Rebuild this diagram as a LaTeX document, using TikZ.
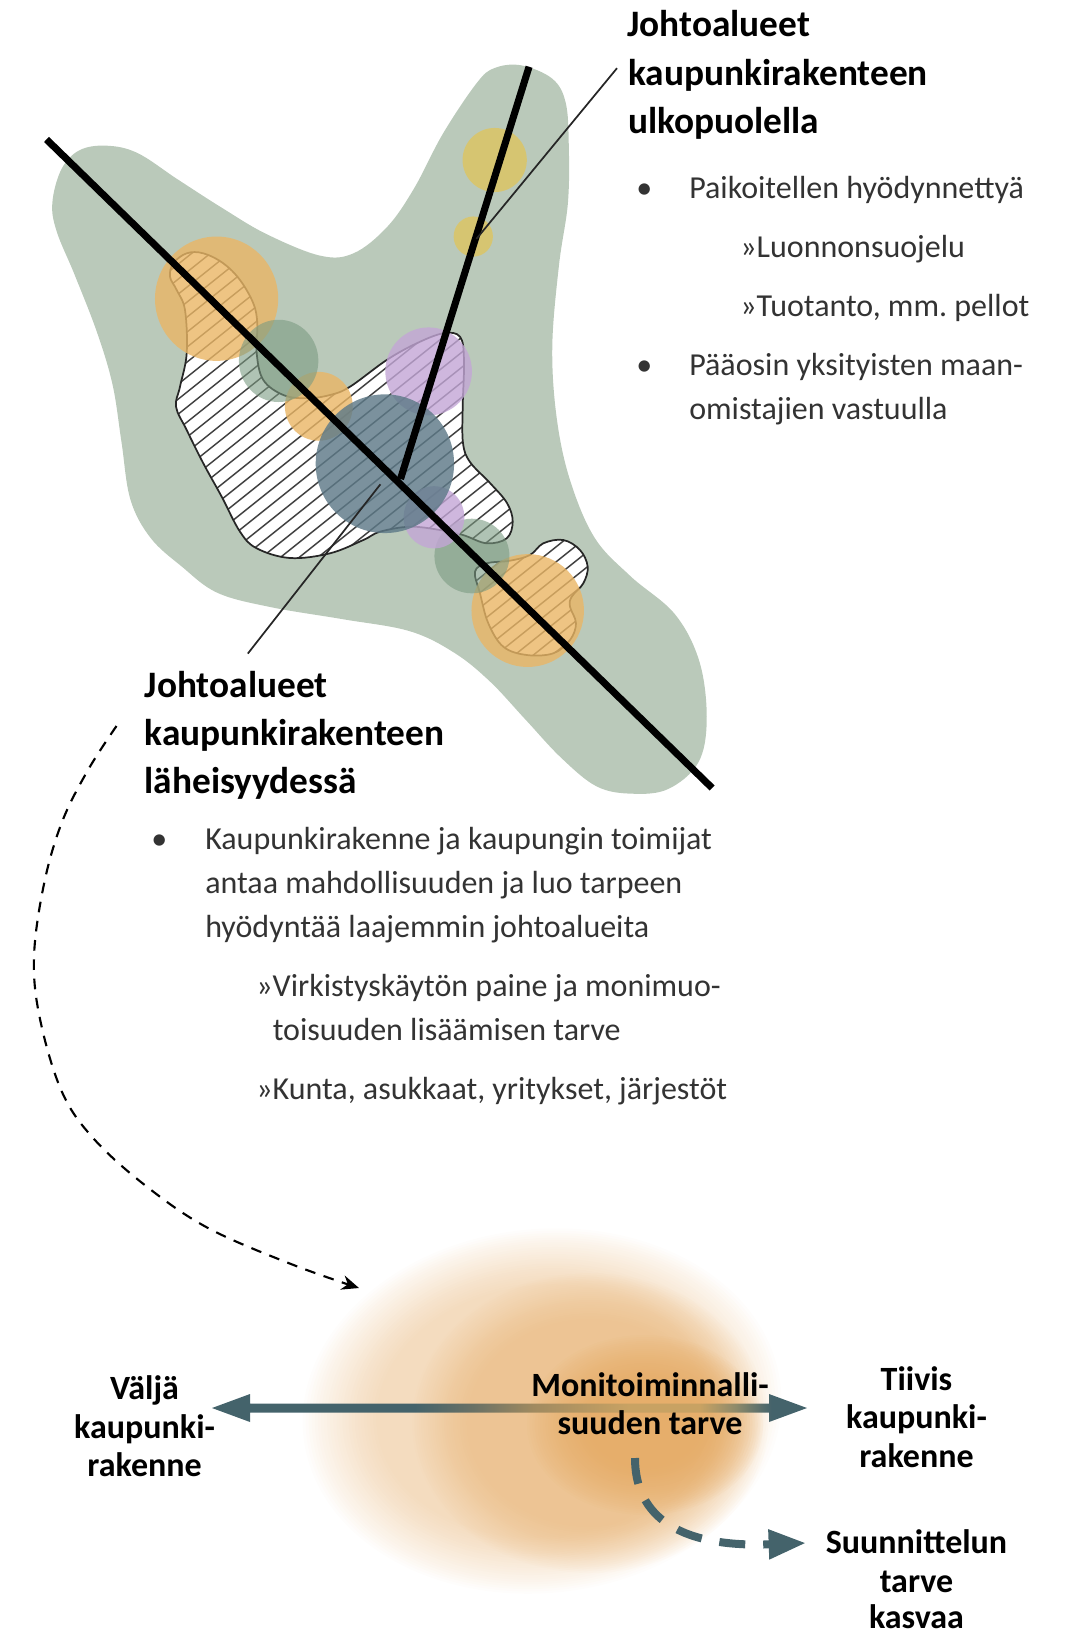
\documentclass[tikz,border=0pt]{standalone}
\usepackage{fontspec}
\setmainfont{Carlito}
\usetikzlibrary{arrows.meta,calc}
\definecolor{blobgreen}{HTML}{BAC9BA}
\definecolor{oran}{HTML}{EAB665}
\definecolor{grn}{HTML}{7B9B82}
\definecolor{purp}{HTML}{C3A6D6}
\definecolor{navy}{HTML}{5E7A88}
\definecolor{yel}{HTML}{DCC565}
\definecolor{teal1}{HTML}{44636B}
\definecolor{txt}{HTML}{333333}
\definecolor{glowc}{HTML}{E3A55B}
\definecolor{shafta}{HTML}{6A7165}
\definecolor{shaftb}{HTML}{A08A60}
\definecolor{shaftc}{HTML}{C8A263}
\definecolor{shaftd}{HTML}{8E8A6A}
\pgfdeclarehorizontalshading{shaftshade}{100bp}{color(0bp)=(teal1);color(42bp)=(teal1);color(47bp)=(shafta);color(52bp)=(shaftb);color(60bp)=(shaftc);color(66bp)=(shaftc);color(69bp)=(shaftd);color(72bp)=(teal1);color(100bp)=(teal1)}
\tikzset{
  headtxt/.style={anchor=base west,font=\fontsize{28}{32}\selectfont\bfseries\frenchspacing,text=black,inner sep=0pt},
  bodytxt/.style={anchor=base west,font=\fontsize{24}{28}\selectfont\frenchspacing,text=txt,inner sep=0pt},
  lowtxt/.style={anchor=base,font=\fontsize{25.5}{30}\selectfont\bfseries\frenchspacing,text=black,inner sep=0pt},
  thinline/.style={line width=1.3pt,black!85},
  mainline/.style={line width=5.3pt,black},
  zoomed/.style={shift={(30,50)},x=0.75pt/2.24,y=-0.75pt/2.0907},
  spot/.style={fill opacity=.8},
  bloboutline/.style={line width=1.3pt,black!85},
  hatchline/.style={line width=1.1pt,black!75}
}
\newcommand\blobApath{plot[smooth cycle,tension=.6] coordinates {(170,276.7)(173.3,263.3)(186.7,253.3)(203.3,253.3)(223.3,263.3)(240,280)(253.3,303.3)(257.3,323.3)(256.7,353.3)(263.3,380)(283.3,395)(306.7,398.3)(330,395)(350,386.7)(386.7,360)(416.7,343.3)(443.3,333.3)(460,336.7)(464,360)(462.7,406.7)(463,443)(470,462)(490,483)(507,503)(512.7,521.7)(506.7,538.3)(486.7,543.3)(463,535)(440,530)(410,526.7)(380,531.7)(363.3,540)(330,553.3)(290,558)(256.7,548.3)(240,531.7)(221.7,496.7)(203.3,463.3)(186.7,430)(176,406.7)(180,386.7)(186.7,353.3)(185,310)(176.7,290)}}
\newcommand\blobBpath{plot[smooth cycle,tension=.6] coordinates {(475,571.7)(486.7,563.3)(510,560.7)(530,555)(543.3,543.3)(563.3,540)(580,550)(587.7,566.7)(583.3,583.3)(571.7,596.7)(570,606.7)(576,623.3)(570,640)(553.3,653.3)(526.7,655)(503.3,646.7)(488.3,623.3)(480,593.3)}}
\newcommand\glowlayer[7]{% cx cy rx ry inner-scale opacity steps
  \foreach \i in {1,...,#7}{
    \pgfmathsetmacro\sc{1-(\i-1)/#7*(1-#5)}
    \fill[glowc,fill opacity=#6] (#1,#2) ellipse [x radius=#3*\sc,y radius=#4*\sc];
  }
}
\begin{document}
\begin{tikzpicture}[x=0.75pt,y=-0.75pt]
\useasboundingbox (0,0) rectangle (1083,1632);
% map
\begin{scope}[zoomed]
\fill[blobgreen] plot[smooth cycle,tension=.6] coordinates {(1000,70)(1040,38)(1100,32)(1170,60)(1200,110)(1207,200)(1205,320)(1185,450)(1170,620)(1180,770)(1210,900)(1265,1020)(1345,1100)(1445,1180)(1500,1280)(1516,1400)(1497,1490)(1430,1545)(1350,1555)(1270,1540)(1190,1480)(1110,1400)(1030,1320)(950,1260)(850,1215)(700,1190)(540,1165)(420,1135)(340,1080)(270,1020)(225,940)(205,820)(185,700)(150,590)(100,470)(60,380)(50,320)(70,250)(110,210)(170,200)(240,215)(330,270)(430,330)(530,385)(650,430)(725,425)(800,370)(860,290)(925,175)};
\end{scope}
\foreach \blob in {\blobApath,\blobBpath}{
  \fill[white] \blob;
  \begin{scope}
    \clip \blob;
    \foreach \c in {281.7,296.7,...,1150}
      \draw[hatchline] (100,\c) -- (650,\c-440);
  \end{scope}
  \draw[bloboutline] \blob;
}
\begin{scope}[zoomed]
\fill[oran,spot] (418,520) circle [x radius=138,y radius=130];
\fill[oran,spot] (647,745) circle [x radius=76,y radius=72];
\fill[oran,spot] (1115,1172) circle [x radius=126,y radius=118];
\fill[grn,fill opacity=.6] (557,650) circle [x radius=89,y radius=86];
\fill[grn,fill opacity=.6] (990,1058) circle [x radius=84,y radius=78];
\fill[purp,spot] (893,672) circle [x radius=97,y radius=92];
\fill[purp,spot] (905,977) circle [x radius=68,y radius=65];
\fill[navy,fill opacity=.82] (795,865) circle [x radius=155,y radius=145];
\fill[yel,fill opacity=.85] (1041,230) circle [x radius=72,y radius=67];
\fill[yel,fill opacity=.85] (993,390) circle [x radius=44,y radius=42];
\coordinate (jct) at (830,897);
\coordinate (lineA) at (37,187);
\coordinate (lineB) at (1528,1543);
\coordinate (lineC) at (1118,35);
\coordinate (pt1) at (1315,38);
\coordinate (pt1b) at (1000,395);
\coordinate (pt2) at (488,1262);
\coordinate (pt2b) at (785,908);
\draw[mainline] (lineA) -- (lineB);
\draw[mainline] (jct) -- (lineC);
\draw[thinline] (pt1) -- (pt1b);
\draw[thinline] (pt2) -- (pt2b);
\end{scope}
% upper text
\node[headtxt] (h1a) at (627,36) {Johtoalueet};
\node[headtxt] (h1b) at (628,85) {kaupunkirakenteen};
\node[headtxt] (h1c) at (628,133) {ulkopuolella};
\node[bodytxt] (b1) at (636,198.5) {•};
\node[bodytxt] (t1) at (689,198.5) {Paikoitellen hyödynnettyä};
\node[bodytxt] (t2) at (740,257.5) {»Luonnonsuojelu};
\node[bodytxt] (t3) at (740,316.5) {»Tuotanto, mm. pellot};
\node[bodytxt] (b2) at (636,375.5) {•};
\node[bodytxt] (t4) at (689,375.5) {Pääosin yksityisten maan-};
\node[bodytxt] (t5) at (689,419.5) {omistajien vastuulla};
\node[headtxt] (h2a) at (144.5,697) {Johtoalueet};
\node[headtxt] (h2b) at (144.5,745) {kaupunkirakenteen};
\node[headtxt] (h2c) at (144.5,793) {läheisyydessä};
\node[bodytxt] (b3) at (151,849.5) {•};
\node[bodytxt] (t6) at (205,849.5) {Kaupunkirakenne ja kaupungin toimijat};
\node[bodytxt] (t7) at (205,893.5) {antaa mahdollisuuden ja luo tarpeen};
\node[bodytxt] (t8) at (205,937.5) {hyödyntää laajemmin johtoalueita};
\node[bodytxt] (t9) at (256,996.5) {»Virkistyskäytön paine ja monimuo-};
\node[bodytxt] (t10) at (272.5,1040.5) {toisuuden lisäämisen tarve};
\node[bodytxt] (t11) at (256,1099.5) {»Kunta, asukkaat, yritykset, järjestöt};
% glow
\begin{scope}[shift={(542,1411)},rotate=6]
\glowlayer{0}{0}{240}{182}{.68}{.0177}{25}
\end{scope}
\glowlayer{590}{1423}{178}{150}{.68}{.0223}{25}
\glowlayer{645}{1425}{118}{90}{.45}{.05}{25}
% dashed curve
\coordinate (dcS) at (116.5,726);
\coordinate (dcE) at (359,1288);
\draw[line width=1.6pt,dash pattern=on 8pt off 6.5pt,-{Stealth[length=13pt,width=11pt]}] plot[smooth,tension=.6] coordinates {(dcS)(88,770)(62,822)(44,884)(34,957)(40,1019)(62,1092)(94,1139)(146,1186)(208,1228)(291,1264)(dcE)};
% double arrow
\coordinate (aL) at (212,1408);
\coordinate (aR) at (807,1408);
\shade[shading=shaftshade] (aL) -- ++(38,-14) -- ++(0,9.5) -- ($(aR)+(-38,-4.5)$) -- ++(0,-9.5) -- (aR) -- ++(-38,14) -- ++(0,-9.5) -- ($(aL)+(38,4.5)$) -- ++(0,9.5) -- cycle;
% dashed teal
\coordinate (tdS) at (635,1458);
\coordinate (tdE) at (806,1543);
\draw[teal1,line width=6pt,dash pattern=on 19.5pt off 13.5pt,-{Triangle[length=28pt,width=21pt]}] (tdS) .. controls (635,1510) and (670,1548) .. (tdE);
% lower text
\node[lowtxt] (m1) at (650,1396.5) {Monitoiminnalli-};
\node[lowtxt] (m2) at (650,1434) {suuden tarve};
\node[lowtxt] (v1) at (144.6,1399) {Väljä};
\node[lowtxt] (v2) at (144.6,1438) {kaupunki-};
\node[lowtxt] (v3) at (144.6,1476) {rakenne};
\node[lowtxt] (r1) at (916.5,1390) {Tiivis};
\node[lowtxt] (r2) at (916.5,1428) {kaupunki-};
\node[lowtxt] (r3) at (916.5,1467) {rakenne};
\node[lowtxt] (s1) at (916.5,1553) {Suunnittelun};
\node[lowtxt] (s2) at (916.5,1592) {tarve};
\node[lowtxt] (s3) at (916.5,1628) {kasvaa};
\end{tikzpicture}
\end{document}
